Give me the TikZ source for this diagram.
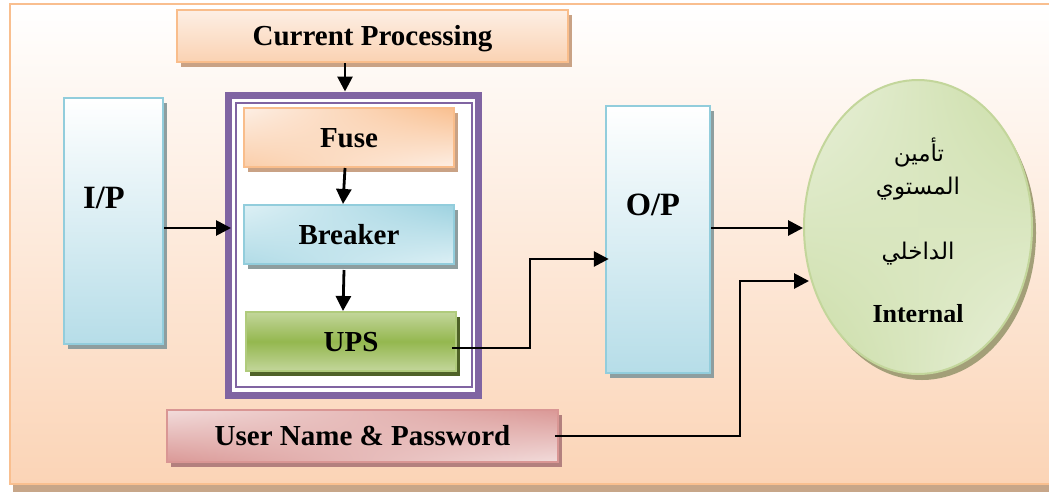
\documentclass[tikz,border=0pt]{standalone}
\usepackage{fontspec}
\setmainfont{Liberation Serif}
\newfontfamily\arabicfont[Script=Arabic]{DejaVu Sans}
\TeXXeTstate=1
\usetikzlibrary{arrows.meta,shadows,shadings,calc,shapes.geometric}

\definecolor{frameor}{HTML}{F9BF8F}
\definecolor{bgpeach}{HTML}{FBD4B6}
\definecolor{framesh}{HTML}{C7A689}
\definecolor{purp}{HTML}{8064A2}
\definecolor{orlight}{HTML}{FDEFE5}
\definecolor{ormid}{HTML}{FAD2B2}
\definecolor{orborder}{HTML}{F9BD8B}
\definecolor{orshadow}{HTML}{C9A285}
\definecolor{bluelight}{HTML}{DDF0F5}
\definecolor{bluedark}{HTML}{9DD2E0}
\definecolor{blueborder}{HTML}{92CDDC}
\definecolor{bluebottom}{HTML}{B6DDE8}
\definecolor{blueshadow}{HTML}{8E9E9F}
\definecolor{greenmid}{HTML}{94B74F}
\definecolor{greenlight}{HTML}{C3D69B}
\definecolor{greenborder}{HTML}{B0CB7C}
\definecolor{greenshadow}{HTML}{4F6228}
\definecolor{ellA}{HTML}{C9DCA4}
\definecolor{ellB}{HTML}{EAF1DC}
\definecolor{ellborder}{HTML}{C3D69B}
\definecolor{ellshadow}{HTML}{A39F78}
\definecolor{pinklight}{HTML}{F2DCDB}
\definecolor{pinkdark}{HTML}{DA9896}
\definecolor{pinkborder}{HTML}{D99694}
\definecolor{pinkshadow}{HTML}{B3807E}

\begin{document}
\begin{tikzpicture}[x=1pt,y=-1pt,
  box/.style={rectangle, inner sep=0pt, line width=2pt,
    font=\bfseries\fontsize{29}{34}\selectfont, text height=19pt, text depth=0pt},
  sh/.style={general shadow={shadow xshift=4pt, shadow yshift=-5pt, fill=#1}},
  orbox/.style={box, draw=orborder, sh=orshadow},
  tallbox/.style={rectangle, inner sep=0pt, line width=2.5pt, draw=blueborder,
    top color=white, bottom color=bluebottom, sh=blueshadow},
  biglabel/.style={font=\bfseries\fontsize{32.5}{38}\selectfont, anchor=base, inner sep=0pt},
  arlabel/.style={font=\arabicfont\fontsize{23}{27}\selectfont, inner sep=0pt},
  arr/.style={draw=black, line width=2.8pt, -{Triangle[length=15pt,width=15pt]}}
]
\useasboundingbox (0,0) rectangle (1049,491);
\clip (0,0) rectangle (1049,491);

% page frame with its shadow
\fill[framesh] (13,9) rectangle (1070,495);
\shadedraw[top color=white, bottom color=bgpeach, draw=frameor, line width=2.5pt]
  (10,4) rectangle (1065,484);

% input and output columns
\node[tallbox, minimum width=99pt, minimum height=246pt] (ip) at (113.5,221) {};
\node[biglabel] (iptext) at (104,208) {I/P};
\node[tallbox, minimum width=104pt, minimum height=267pt] (op) at (658,239.5) {};
\node[biglabel] (optext) at (653,215) {O/P};

% top box
\node[orbox, top color=orlight, bottom color=ormid,
      minimum width=391pt, minimum height=52pt] (cur) at (372.5,36) {Current Processing};

% protection unit frame
\node[draw=purp, line width=7pt, fill=white, inner sep=0pt,
      minimum width=250pt, minimum height=300pt] (frame) at (353.5,245) {};
\draw[purp, line width=2pt] ($(frame.north west)+(11,11)$) rectangle ($(frame.south east)+(-10.5,-12)$);

% stages inside the frame
\node[orbox, upper left=orlight, upper right=frameor, lower left=frameor!70!orlight, lower right=orlight,
      minimum width=210pt, minimum height=59pt] (fuse) at (349,137.5) {Fuse};
\node[box, draw=blueborder, sh=blueshadow,
      upper left=bluelight, upper right=bluedark, lower left=bluedark!70!bluelight, lower right=bluelight,
      minimum width=210pt, minimum height=59pt] (breaker) at (349,234.5) {Breaker};
\node[box, draw=greenborder, sh=greenshadow,
      top color=greenlight, bottom color=greenlight, middle color=greenmid,
      minimum width=210pt, minimum height=59pt] (ups) at (351,341.5) {UPS};

% credentials box
\node[box, draw=pinkborder, sh=pinkshadow,
      upper left=pinklight, upper right=pinkdark, lower left=pinkdark, lower right=pinklight,
      minimum width=391pt, minimum height=52pt] (user) at (362.5,436) {User Name \& Password};

% internal security ellipse
\node[ellipse, inner sep=0pt, line width=2pt, draw=ellborder,
      general shadow={shadow xshift=4pt, shadow yshift=-6pt, fill=ellshadow},
      upper left=ellB, upper right=ellA, lower left=ellA, lower right=ellB,
      minimum width=228pt, minimum height=294pt] (ell) at (918,227) {};
\node[arlabel] (ar1) at (919,152) {\beginR تأمين\endR};
\node[arlabel] (ar2) at (918,189) {\beginR المستوي\endR};
\node[arlabel] (ar3) at (918,254) {\beginR الداخلي\endR};
\begin{scope}
  \clip (850,290) rectangle (990,321);
  \node[font=\bfseries\fontsize{26}{30}\selectfont, anchor=base, inner sep=0pt] (internal) at (918,322.5) {Internal};
\end{scope}

% connectors
\draw[arr] ([xshift=-27.5pt]cur.south) -- ([xshift=-8.5pt]frame.north);
\draw[arr] ([xshift=-4pt]fuse.south) -- ([xshift=-6pt]breaker.north);
\draw[arr] ([xshift=-5pt,yshift=-5pt]breaker.south) -- ([xshift=-8pt]ups.north);
\coordinate (a1) at ($(ip.east)+(0,7)$);
\draw[arr, shorten >=-6pt] (a1) -- (a1 -| frame.west);
\coordinate (u1) at ($(ups.east)+(-5,6.5)$);
\coordinate (o1) at ($(op.west)+(4,19.5)$);
\draw[arr] (u1) -- ++(78,0) |- (o1);
\coordinate (o2) at ($(op.east)+(0,-11.5)$);
\draw[arr] (o2) -- (o2 -| ell.west);
\coordinate (p1) at ($(user.east)+(-4,0)$);
\coordinate (e1) at ($(ell.west)+(6,54)$);
\draw[arr] (p1) -- ++(185,0) |- (e1);
\end{tikzpicture}
\end{document}
